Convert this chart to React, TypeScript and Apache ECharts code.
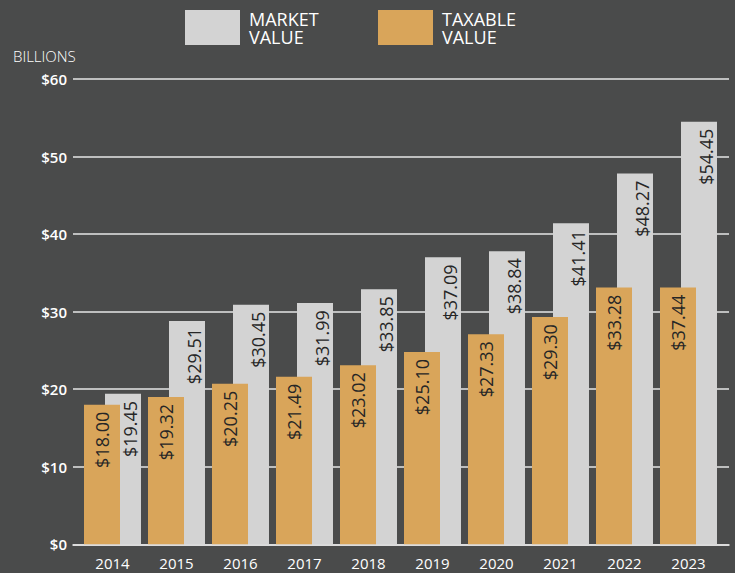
import React, { useEffect, useRef } from "react";
import * as echarts from "echarts";

const years = ["2014", "2015", "2016", "2017", "2018", "2019", "2020", "2021", "2022", "2023"];
const marketValues = [19.4, 28.8, 30.9, 31.1, 32.9, 37.0, 37.8, 41.4, 47.8, 54.5];
const marketLabels = ["$19.45", "$29.51", "$30.45", "$31.99", "$33.85", "$37.09", "$38.84", "$41.41", "$48.27", "$54.45"];
const taxableValues = [18.0, 19.0, 20.7, 21.6, 23.1, 24.8, 27.1, 29.3, 33.1, 33.1];
const taxableLabels = ["$18.00", "$19.32", "$20.25", "$21.49", "$23.02", "$25.10", "$27.33", "$29.30", "$33.28", "$37.44"];
const yTicks = [0, 10, 20, 30, 40, 50, 60];

const BG = "#4a4b4b";
const MARKET = "#d3d3d3";
const TAXABLE = "#d9a55a";
const FONT = "'Open Sans', 'DejaVu Sans', sans-serif";

export default function App() {
  const ref = useRef<HTMLDivElement>(null);
  useEffect(() => {
    document.body.style.margin = "0";
    const chart = echarts.init(ref.current!, null, { renderer: "svg" });
    const labelBase = {
      show: true,
      rotate: 90,
      align: "right",
      verticalAlign: "middle",
      color: "#262626",
      fontSize: 18,
      fontWeight: 500,
      fontFamily: FONT,
    };
    const legendText = (x: number, y: number, text: string) => ({
      type: "text",
      left: x,
      top: y,
      style: { text, fill: "#ffffff", fontSize: 18, lineHeight: 16, fontWeight: 500, fontFamily: FONT },
    });
    chart.setOption({
      animation: false,
      backgroundColor: BG,
      textStyle: { fontFamily: FONT },
      grid: [
        { left: 73, right: 6, top: 79, bottom: 28.7 },
        { left: 80.5, right: 14.5, top: 79, bottom: 28.7 },
      ],
      xAxis: [
        {
          gridIndex: 0,
          type: "category",
          data: [""],
          axisLine: { show: true, lineStyle: { color: "#e6e6e6", width: 1.6 } },
          axisTick: { show: false },
          axisLabel: { show: false },
        },
        {
          gridIndex: 1,
          type: "category",
          data: years,
          axisLine: { show: false },
          axisTick: { show: false },
          axisLabel: { color: "#ffffff", fontSize: 15, fontWeight: 500, margin: 11, fontFamily: FONT },
        },
      ],
      yAxis: [
        {
          gridIndex: 0,
          type: "value",
          min: yTicks[0],
          max: yTicks[yTicks.length - 1],
          interval: 10,
          axisLine: { show: false },
          axisTick: { show: false },
          axisLabel: {
            color: "#ffffff",
            fontSize: 15,
            fontWeight: 600,
            margin: 6,
            fontFamily: FONT,
            formatter: (v: number) => "$" + v,
          },
          splitLine: { show: true, lineStyle: { color: "#e6e6e6", width: 1.6 } },
        },
        {
          gridIndex: 1,
          type: "value",
          min: yTicks[0],
          max: yTicks[yTicks.length - 1],
          interval: 10,
          show: false,
          splitLine: { show: false },
        },
      ],
      graphic: [
        { type: "rect", left: 185, top: 10, shape: { width: 55, height: 35 }, style: { fill: MARKET } },
        legendText(249, 10, "MARKET"),
        legendText(249, 28, "VALUE"),
        { type: "rect", left: 378, top: 10, shape: { width: 55, height: 35 }, style: { fill: TAXABLE } },
        legendText(442, 10, "TAXABLE"),
        legendText(442, 28, "VALUE"),
        {
          type: "text",
          left: 13,
          top: 48,
          style: { text: "BILLIONS", fill: "#ffffff", fontSize: 15, fontWeight: 300, fontFamily: FONT },
        },
      ],
      series: [
        {
          name: "TAXABLE VALUE",
          type: "bar",
          xAxisIndex: 1,
          yAxisIndex: 1,
          data: taxableValues,
          barWidth: 36,
          barGap: "-41.67%",
          z: 3,
          itemStyle: { color: TAXABLE },
          label: {
            ...labelBase,
            position: [18, 7],
            formatter: (p: any) => taxableLabels[p.dataIndex],
          },
        },
        {
          name: "MARKET VALUE",
          type: "bar",
          xAxisIndex: 1,
          yAxisIndex: 1,
          data: marketValues,
          barWidth: 36,
          barGap: "-41.67%",
          z: 2,
          itemStyle: { color: MARKET },
          label: {
            ...labelBase,
            position: [25.5, 7],
            formatter: (p: any) => marketLabels[p.dataIndex],
          },
        },
      ],
    });
    return () => chart.dispose();
  }, []);
  return <div ref={ref} style={{ position: "fixed", left: 0, top: 0, width: 735, height: 573 }} />;
}
